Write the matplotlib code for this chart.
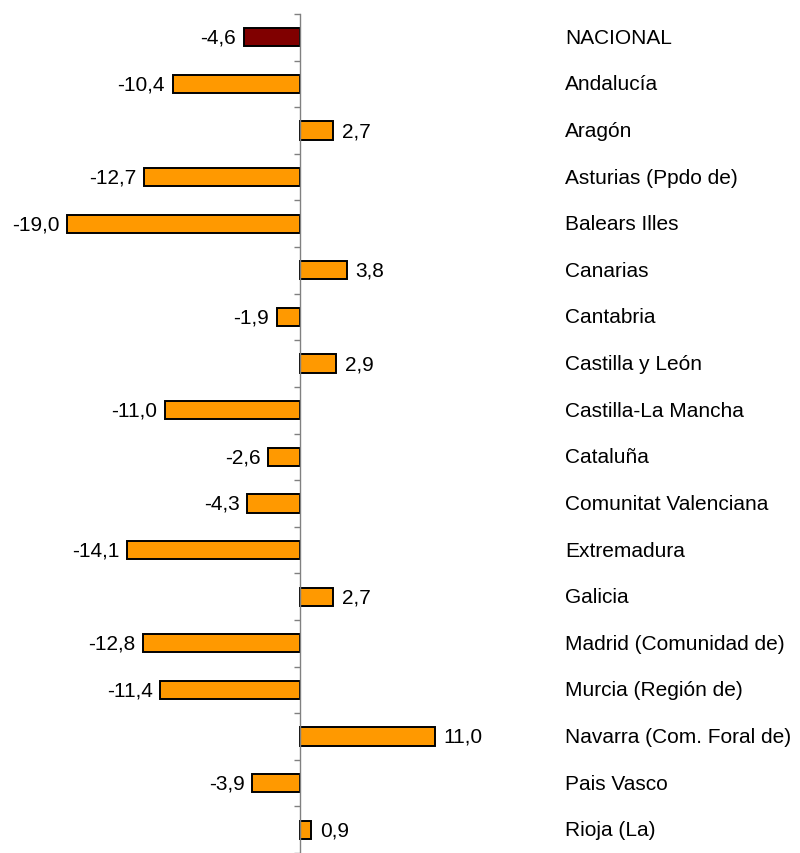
import numpy as np
import matplotlib.pyplot as plt
import matplotlib.transforms as mtransforms

regiones = ["NACIONAL", "Andalucía", "Aragón", "Asturias (Ppdo de)", "Balears Illes",
            "Canarias", "Cantabria", "Castilla y León", "Castilla-La Mancha", "Cataluña",
            "Comunitat Valenciana", "Extremadura", "Galicia", "Madrid (Comunidad de)",
            "Murcia (Región de)", "Navarra (Com. Foral de)", "Pais Vasco", "Rioja (La)"]
valores = [-4.6, -10.4, 2.7, -12.7, -19.0, 3.8, -1.9, 2.9, -11.0, -2.6,
           -4.3, -14.1, 2.7, -12.8, -11.4, 11.0, -3.9, 0.9]

plt.rcParams['font.family'] = ['Liberation Sans', 'DejaVu Sans']

fig = plt.figure(figsize=(8, 8.54), dpi=100)
ax = fig.add_axes([0, 0, 1, 1 - 15 / 854])

y = np.arange(len(regiones))
colores = ["#800000"] + ["#FF9900"] * (len(regiones) - 1)
ax.barh(y, valores, height=0.39, color=colores, edgecolor="black", linewidth=1.4, zorder=2)

escala = 12.25  # px por unidad
paso = 46.96    # px por categoria
ax.set_xlim(-300 / escala, 500 / escala)
ax.set_ylim(-0.5 + 839 / paso, -0.5)

# eje vertical en cero
for s in ["top", "right", "bottom"]:
    ax.spines[s].set_visible(False)
ax.spines["left"].set_position(("data", 0))
ax.spines["left"].set_color("#808080")
ax.spines["left"].set_linewidth(1.0)
ax.set_xticks([])
ax.set_yticks(np.arange(len(regiones) + 1) - 0.5)
ax.set_yticklabels([])
ax.tick_params(axis="y", direction="out", length=4, color="#808080", width=1.0)

# etiquetas de valores
for yi, v in zip(y, valores):
    txt = f"{v:.1f}".replace(".", ",")
    if v < 0:
        ax.annotate(txt, (v, yi), xytext=(-5.5, 0), textcoords="offset points",
                    ha="right", va="center", fontsize=15)
    else:
        ax.annotate(txt, (v, yi), xytext=(6.5, 0), textcoords="offset points",
                    ha="left", va="center", fontsize=15)

# nombres de regiones a la derecha
trans = mtransforms.blended_transform_factory(ax.transAxes, ax.transData)
for yi, nombre in zip(y, regiones):
    ax.text(565 / 800, yi, nombre, transform=trans, ha="left", va="center", fontsize=15)

fig.savefig("out.png", dpi=100)
